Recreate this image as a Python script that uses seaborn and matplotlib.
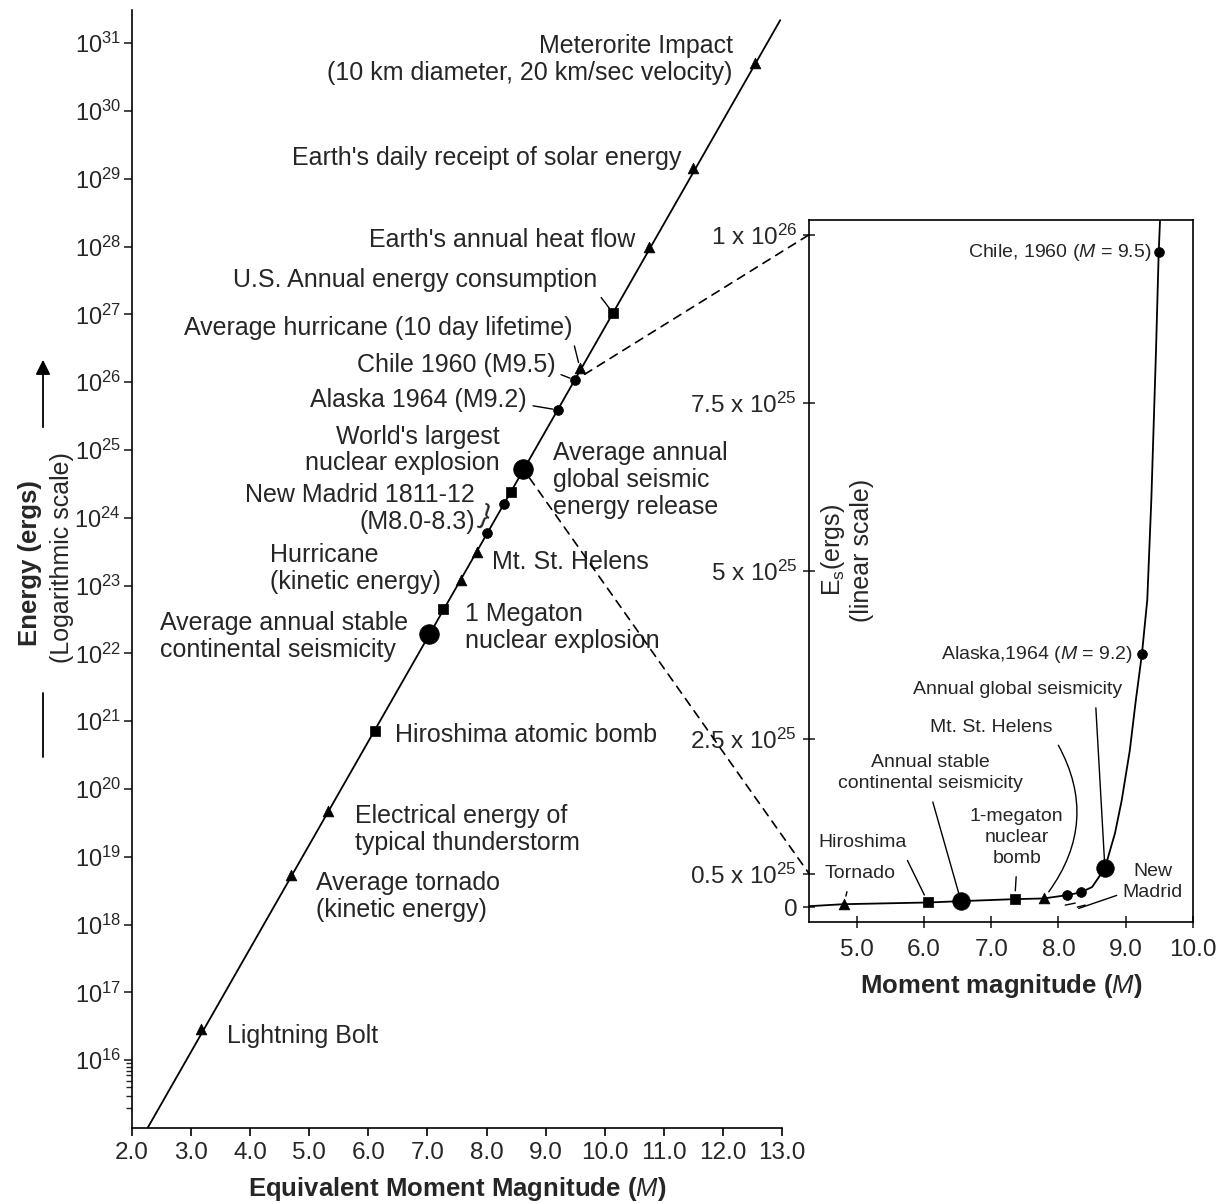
import numpy as np
import pandas as pd
import matplotlib
matplotlib.use("Agg")
import matplotlib.pyplot as plt
from matplotlib.patches import ConnectionPatch
from matplotlib.lines import Line2D
from matplotlib.transforms import offset_copy
from matplotlib.ticker import FixedLocator, NullFormatter
import seaborn as sns

# ---- main chart: equivalent moment magnitude vs energy (log10 of ergs)
line_mag = [2.27, 12.97]
line_log_energy = [15.01, 31.34]

event_names = [
    "Meterorite Impact\n(10 km diameter, 20 km/sec velocity)",
    "Earth's daily receipt of solar energy",
    "Earth's annual heat flow",
    "U.S. Annual energy consumption",
    "Average hurricane (10 day lifetime)",
    "Chile 1960 (M9.5)",
    "Alaska 1964 (M9.2)",
    "Average annual\nglobal seismic\nenergy release",
    "World's largest\nnuclear explosion",
    "",
    "New Madrid 1811-12\n(M8.0-8.3)",
    "Mt. St. Helens",
    "Hurricane\n(kinetic energy)",
    "1 Megaton\nnuclear explosion",
    "Average annual stable\ncontinental seismicity",
    "Hiroshima atomic bomb",
    "Electrical energy of\ntypical thunderstorm",
    "Average tornado\n(kinetic energy)",
    "Lightning Bolt",
]
event_mag = [12.54, 11.49, 10.75, 10.14, 9.58, 9.50, 9.21, 8.62, 8.41, 8.30,
             8.01, 7.84, 7.57, 7.26, 7.03, 6.11, 5.32, 4.69, 3.17]
event_log_energy = [30.71, 29.16, 27.99, 27.02, 26.21, 26.03, 25.59, 24.72, 24.38,
                    24.21, 23.77, 23.50, 23.09, 22.65, 22.28, 20.86, 19.68, 18.73, 16.46]
event_marker = ["tri", "tri", "tri", "sq", "tri", "dot", "dot", "big", "sq", "dot",
                "dot", "tri", "tri", "sq", "big", "sq", "tri", "tri", "tri"]

# ---- inset: linear scale, energy in units of 1e25 ergs
curve_mag = [4.29, 4.81, 6.06, 6.55, 7.35, 7.78, 8.13, 8.33, 8.50, 8.69, 8.84,
             8.94, 9.06, 9.15, 9.24, 9.32, 9.38, 9.45, 9.49, 9.51]
curve_energy = [0.015, 0.045, 0.07, 0.09, 0.12, 0.13, 0.18, 0.22, 0.30, 0.58, 1.10,
                1.59, 2.33, 3.08, 3.76, 4.57, 6.05, 8.28, 9.74, 10.22]

inset_names = ["Tornado", "Hiroshima", "Annual stable\ncontinental seismicity",
               "1-megaton\nnuclear\nbomb", "Mt. St. Helens", "", "",
               "Annual global seismicity", "Alaska,1964 ($M$ = 9.2)",
               "Chile, 1960 ($M$ = 9.5)"]
inset_mag = [4.81, 6.06, 6.55, 7.35, 7.78, 8.13, 8.33, 8.69, 9.24, 9.49]
inset_energy = [0.045, 0.07, 0.09, 0.12, 0.13, 0.18, 0.22, 0.58, 3.76, 9.74]
inset_marker = ["tri", "sq", "big", "sq", "tri", "dot", "dot", "big", "dot", "dot"]

main_ticks = list(range(16, 32))
inset_ticks = [0, 0.5, 2.5, 5, 7.5, 10]
inset_tick_labels = ["0", "0.5 x 10$^{25}$", "2.5 x 10$^{25}$", "5 x 10$^{25}$",
                     "7.5 x 10$^{25}$", "1 x 10$^{26}$"]

sns.set_theme(style="ticks")
plt.rcParams["font.family"] = ["Liberation Sans", "DejaVu Sans"]
plt.rcParams["mathtext.fontset"] = "custom"
plt.rcParams["mathtext.rm"] = "Liberation Sans"
plt.rcParams["mathtext.it"] = "Liberation Sans:italic"
plt.rcParams["mathtext.bf"] = "Liberation Sans:bold"
plt.rcParams["axes.linewidth"] = 1.2
plt.rcParams["axes.edgecolor"] = "black"

W, H = 1221, 1204
fig = plt.figure(figsize=(W / 100, H / 100), dpi=100)
fig.patch.set_facecolor("white")

marker_style = {"tri": ("^", 60), "sq": ("s", 55), "dot": ("o", 50), "big": ("o", 200)}

# ---------------- main axes
ax = fig.add_axes([132 / W, 1 - 1128 / H, 650 / W, 1118 / H])
sns.lineplot(x=line_mag, y=[10.0 ** v for v in line_log_energy], ax=ax,
             color="black", lw=1.3, sort=False)

events = pd.DataFrame({"name": event_names, "mag": event_mag,
                       "energy": [10.0 ** v for v in event_log_energy],
                       "kind": event_marker})
for kind, (mk, size) in marker_style.items():
    sub = events[events.kind == kind]
    sns.scatterplot(data=sub, x="mag", y="energy", marker=mk, s=size, color="black",
                    edgecolor="black", linewidth=0.5, ax=ax, zorder=3, legend=False)

ax.set_yscale("log")
ax.set_xlim(2.0, 13.0)
ax.set_ylim(1e15, 10 ** 31.49)
ax.set_xticks(np.arange(2, 14))
ax.set_xticklabels([f"{v:.1f}" for v in range(2, 14)])
ax.set_yticks([10.0 ** k for k in main_ticks])
ax.set_yticklabels([f"10$^{{{k}}}$" for k in main_ticks])
ax.yaxis.set_minor_locator(FixedLocator([k * 1e15 for k in range(2, 10)]))
ax.yaxis.set_minor_formatter(NullFormatter())
ax.tick_params(axis="x", labelsize=17.5, length=6, width=1.2, pad=4, color="black")
ax.tick_params(axis="y", which="major", labelsize=17, length=6, width=1.2, pad=2)
ax.tick_params(axis="y", which="minor", length=4, width=1.0)
sns.despine(ax=ax)
ax.set_xlabel("Equivalent Moment Magnitude ($\\mathit{M}$)", fontsize=18.5,
              fontweight="bold", labelpad=8)
ax.set_ylabel("")

# label layout: (offset x px, offset y px, ha, leader relpos or None)
main_layout = [
    (-22, 3, "right", None), (-11, 10, "right", None), (-14, 7, "right", None),
    (-16, 33, "right", (1, 0)), (-7, 40, "right", (1, 0)), (-20, 15, "right", (1, 0.2)),
    (-31, 10, "right", (1, 0.3)), (30, -11, "left", None), (-11, 42, "right", None),
    (0, 0, "left", None), (-12, 25, "right", None), (15, -10, "left", None),
    (-20, 11, "right", None), (22, -18, "left", None), (-21, -2, "right", None),
    (20, -4, "left", None), (27, -19, "left", None), (25, -21, "left", None),
    (26, -7, "left", None),
]
for (name, m, e), (dx, dy, ha, rel) in zip(
        events[["name", "mag", "energy"]].itertuples(index=False), main_layout):
    if not name:
        continue
    malign = "right" if ha == "right" and name.startswith(("Meter", "World", "New")) else "left"
    if ha == "left":
        malign = "left"
    arrow = None
    if rel is not None:
        arrow = dict(arrowstyle="-", color="black", lw=1.0, shrinkA=2, shrinkB=4, relpos=rel)
    ax.annotate(name, xy=(m, e), xytext=(dx, dy), textcoords="offset pixels",
                ha=ha, va="center", multialignment=malign, fontsize=18,
                linespacing=1.15, arrowprops=arrow)

# brace next to the New Madrid pair
nm = events.iloc[10]
ax.annotate("}", xy=(nm.mag, nm.energy), xytext=(-3, 17), textcoords="offset pixels",
            ha="center", va="center", fontsize=20, rotation=-20)

# ---------------- inset axes
ax2 = fig.add_axes([809 / W, 1 - 922 / H, 384 / W, 702 / H])
sns.lineplot(x=curve_mag, y=[v * 1e25 for v in curve_energy], ax=ax2,
             color="black", lw=1.3, sort=False)
inset = pd.DataFrame({"name": inset_names, "mag": inset_mag,
                      "energy": [v * 1e25 for v in inset_energy], "kind": inset_marker})
for kind, (mk, size) in marker_style.items():
    sub = inset[inset.kind == kind]
    sns.scatterplot(data=sub, x="mag", y="energy", marker=mk,
                    s=size * (0.8 if kind == "big" else 1.0), color="black",
                    edgecolor="black", linewidth=0.5, ax=ax2, zorder=3, legend=False)
ax2.set_xlim(4.29, 10.0)
ax2.set_ylim(-0.22e25, 10.22e25)
ax2.set_xticks(np.arange(5, 11))
ax2.set_xticklabels([f"{v:.1f}" for v in range(5, 11)])
ax2.set_yticks([v * 1e25 for v in inset_ticks])
ax2.set_yticklabels(inset_tick_labels)
ax2.yaxis.get_offset_text().set_visible(False)
ax2.tick_params(axis="both", direction="inout", length=9, width=1.2, labelsize=17.5)
ax2.tick_params(axis="x", pad=8)
ax2.tick_params(axis="y", pad=4)
ax2.set_xlabel("Moment magnitude ($\\mathit{M}$)", fontsize=18.5, fontweight="bold",
               labelpad=8)
ax2.set_ylabel("")
ax2.text(0.0625, 0.53, "E$_{\\mathrm{s}}$(ergs)", transform=ax2.transAxes, rotation=90,
         ha="center", va="center", fontsize=18)
ax2.text(0.138, 0.53, "(linear scale)", transform=ax2.transAxes, rotation=90,
         ha="center", va="center", fontsize=18)

inset_layout = [
    (16, 31, "center", (0.35, 0), 0), (-65, 60, "center", (0.95, 0), 0),
    (-31, 128, "center", (0.5, 0), 0), (2, 62, "center", (0.5, 0), 0),
    (-52, 171, "center", (1, 0), -0.35), None, None,
    (-87, 179, "center", (0.87, 0), 0), (-9, 0, "right", None, 0),
    (-7, 0, "right", None, 0),
]
for (name, m, e), lay in zip(inset[["name", "mag", "energy"]].itertuples(index=False),
                             inset_layout):
    if lay is None:
        continue
    dx, dy, ha, rel, rad = lay
    arrow = None
    if rel is not None:
        arrow = dict(arrowstyle="-", color="black", lw=1.0, shrinkA=5, shrinkB=6,
                     relpos=rel, connectionstyle=f"arc3,rad={rad}")
    ax2.annotate(name, xy=(m, e), xytext=(dx, dy), textcoords="offset pixels",
                 ha=ha, va="center", multialignment="center", fontsize=14,
                 linespacing=1.3, arrowprops=arrow)

# New Madrid label, leader and break marks below the two dots
nm_m, nm_e = inset.mag[6], inset.energy[6]
ax2.annotate("New\nMadrid", xy=(nm_m, nm_e), xytext=(72, 10), textcoords="offset pixels",
             ha="center", va="center", fontsize=14, linespacing=1.3)
ax2.annotate("", xy=(nm_m, nm_e),
             xycoords=offset_copy(ax2.transData, fig=fig, x=-2, y=-16, units="dots"),
             xytext=(38, 13), textcoords="offset pixels",
             arrowprops=dict(arrowstyle="-", lw=1.0, color="black", shrinkA=0, shrinkB=0))
nm1_m, nm1_e = inset.mag[5], inset.energy[5]
for (x0, y0), (x1, y1) in [((-2, -10), (8, -8)), ((10, -12), (18, -10))]:
    ax2.annotate("", xy=(nm1_m, nm1_e),
                 xycoords=offset_copy(ax2.transData, fig=fig, x=x1, y=y1, units="dots"),
                 xytext=(nm1_m, nm1_e),
                 textcoords=offset_copy(ax2.transData, fig=fig, x=x0, y=y0, units="dots"),
                 arrowprops=dict(arrowstyle="-", lw=1.0, color="black",
                                 shrinkA=0, shrinkB=0))

# dashed connectors between the two panels
chile = events.iloc[5]
glob = events.iloc[7]
for (m, e), target in [((chile.mag, chile.energy), 1e26), ((glob.mag, glob.energy), 0.5e25)]:
    con = ConnectionPatch(xyA=(m, e), coordsA=ax.transData,
                          xyB=(ax2.get_xlim()[0], target), coordsB=ax2.transData,
                          linestyle=(0, (5, 4)), lw=1.2, color="black", shrinkA=8)
    fig.add_artist(con)

# axis title of the main panel
fig.text(30 / W, 1 - 563 / H, "Energy (ergs)", rotation=90, ha="center", va="center",
         fontsize=18.5, fontweight="bold")
fig.text(62 / W, 1 - 558 / H, "(Logarithmic scale)", rotation=90, ha="center",
         va="center", fontsize=18)
fig.add_artist(matplotlib.patches.FancyArrowPatch(
    (43 / W, 1 - 430 / H), (43 / W, 1 - 357 / H), transform=fig.transFigure,
    arrowstyle="-|>", mutation_scale=22, lw=1.3, color="black"))
fig.add_artist(Line2D([43 / W, 43 / W], [1 - 693 / H, 1 - 757 / H],
                      transform=fig.transFigure, color="black", lw=1.3))

fig.savefig("out.png", dpi=100, facecolor="white")
